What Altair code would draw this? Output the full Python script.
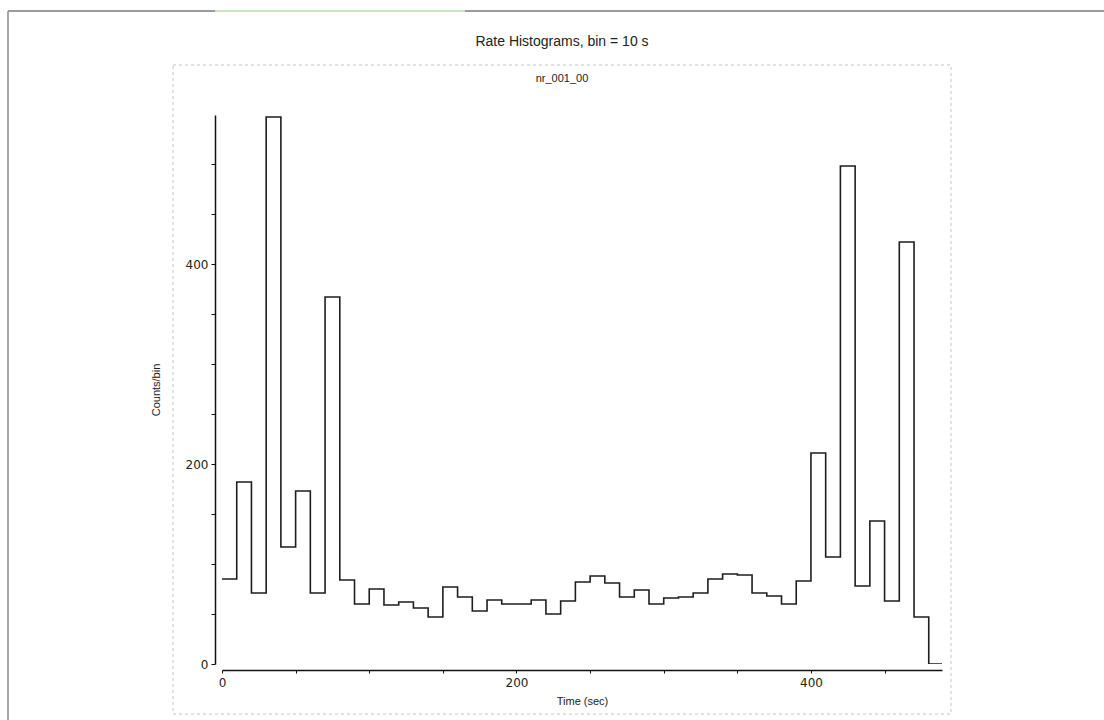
import altair as alt
import pandas as pd

# ---- data (10 s bins, value = counts in bin starting at time) ----
bin_start = [0, 10, 20, 30, 40, 50, 60, 70, 80, 90,
             100, 110, 120, 130, 140, 150, 160, 170, 180, 190,
             200, 210, 220, 230, 240, 250, 260, 270, 280, 290,
             300, 310, 320, 330, 340, 350, 360, 370, 380, 390,
             400, 410, 420, 430, 440, 450, 460, 470, 480, 490]
counts = [85, 182, 71, 547, 117, 173, 71, 367, 84, 60,
          75, 59, 62, 56, 47, 77, 67, 53, 64, 60,
          60, 64, 50, 63, 82, 88, 81, 67, 74, 60,
          66, 67, 71, 85, 90, 89, 71, 68, 60, 83,
          211, 107, 498, 78, 143, 63, 422, 47, 0, 0]
x_ticks = [0, 50, 100, 150, 200, 250, 300, 350, 400, 450]
y_ticks = [0, 50, 100, 150, 200, 250, 300, 350, 400, 450, 500]
main_title = "Rate Histograms, bin = 10 s"
sub_title = "nr_001_00"

df = pd.DataFrame({"time": bin_start, "counts": counts})
one = alt.Data(values=[{"k": 1}])

label_expr = "datum.value % 200 == 0 ? datum.label : ''"

line = alt.Chart(df).mark_line(
    interpolate="step-after", color="#1e1e1e", strokeWidth=1.6, clip=True
).encode(
    x=alt.X("time:Q", scale=alt.Scale(domain=[0, 489], nice=False, zero=True),
            axis=alt.Axis(values=x_ticks, labelExpr=label_expr, offset=6, tickSize=3,
                          grid=False, domainColor="#111", tickColor="#111",
                          domainWidth=1.5, tickWidth=1, labelFont="DejaVu Sans",
                          labelFontSize=12, labelColor="#222", labelPadding=4,
                          labelFlush=False, title="Time (sec)", titleFont="Liberation Sans",
                          titleFontSize=11, titleFontWeight="normal", titleColor="#222",
                          titleY=31, titleBaseline="middle")),
    y=alt.Y("counts:Q", scale=alt.Scale(domain=[0, 549], nice=False),
            axis=alt.Axis(values=y_ticks, labelExpr=label_expr, offset=7, tickSize=4,
                          grid=False, domainColor="#111", tickColor="#111",
                          domainWidth=1.5, tickWidth=1, labelFont="DejaVu Sans",
                          labelFontSize=12, labelColor="#222", labelPadding=3,
                          labelFlush=False, title="Counts/bin", titleFont="Liberation Sans",
                          titleFontSize=11, titleFontWeight="normal", titleColor="#222",
                          titleX=-59, titleY=274.5, titleAngle=270,
                          titleAlign="center", titleBaseline="middle")),
)

# decorations: window frame and dashed panel border
frame_top = alt.Chart(one).mark_rule(color="#9c9c9c", strokeWidth=2).encode(
    x=alt.value(-214), x2=alt.value(882), y=alt.value(-104))
frame_green = alt.Chart(one).mark_rule(color="#cfe0bf", strokeWidth=2).encode(
    x=alt.value(-7), x2=alt.value(243), y=alt.value(-104))
frame_left = alt.Chart(one).mark_rule(color="#8a8a8a", strokeWidth=1.5).encode(
    x=alt.value(-214), y=alt.value(-104), y2=alt.value(605))
panel = alt.Chart(one).mark_rect(
    fillOpacity=0, stroke="#c4c4c4", strokeWidth=1, strokeDash=[3, 3]
).encode(x=alt.value(-49), x2=alt.value(729), y=alt.value(-50), y2=alt.value(599))

title_t = alt.Chart(one).mark_text(
    text=main_title, font="Liberation Sans", fontSize=14, color="#222",
    align="center", baseline="middle"
).encode(x=alt.value(340), y=alt.value(-73))
sub_t = alt.Chart(one).mark_text(
    text=sub_title, font="Liberation Sans", fontSize=11, color="#222",
    align="center", baseline="middle"
).encode(x=alt.value(340), y=alt.value(-36))

chart = alt.layer(frame_top, frame_green, frame_left, panel, title_t, sub_t, line).properties(
    width=720, height=549,
    padding={"left": 222, "top": 115, "right": 162, "bottom": 56},
    autosize=alt.AutoSizeParams(type="none"),
    background="white",
).configure_view(stroke=None)

chart.save("out.html", embed_options={"renderer": "svg", "actions": False})
